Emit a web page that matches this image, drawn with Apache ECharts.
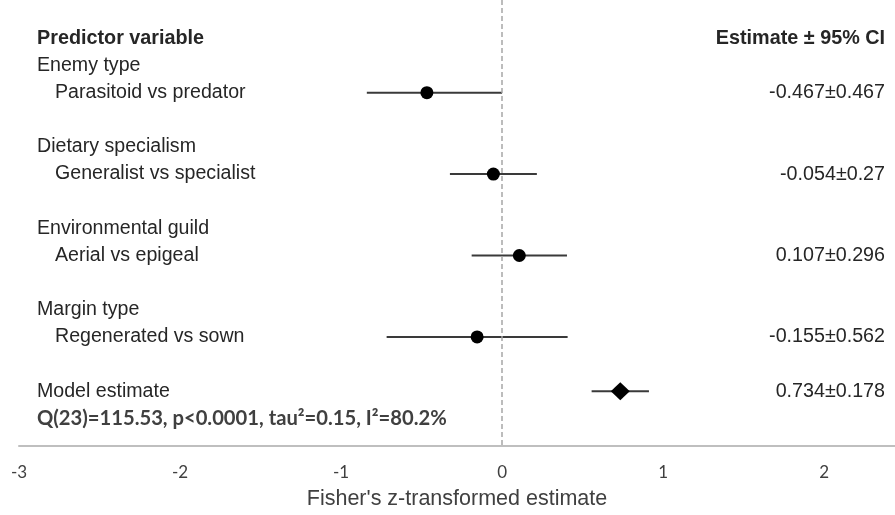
<!DOCTYPE html>
<html>
<head>
<meta charset="utf-8">
<script src="https://cdn.jsdelivr.net/npm/echarts@6/dist/echarts.min.js"></script>
<style>
  html, body { margin: 0; padding: 0; background: #ffffff; }
  #chart { width: 895px; height: 515px; }
</style>
</head>
<body>
<div id="chart"></div>
<script>
// ---- data ----
const groups = ['Enemy type', 'Dietary specialism', 'Environmental guild', 'Margin type'];
const contrasts = ['Parasitoid vs predator', 'Generalist vs specialist', 'Aerial vs epigeal', 'Regenerated vs sown'];
const estimates = [-0.467, -0.054, 0.107, -0.155];
const ciLow = [-0.84, -0.324, -0.189, -0.717];
const ciHigh = [0.0, 0.216, 0.403, 0.407];
const estimateText = ['-0.467±0.467', '-0.054±0.27', '0.107±0.296', '-0.155±0.562'];

const modelLabel = 'Model estimate';
const modelEstimate = 0.734;
const modelLow = 0.556;
const modelHigh = 0.912;
const modelText = '0.734±0.178';
const statsText = 'Q(23)=115.53, p<0.0001, tau²=0.15, I²=80.2%';

const headerLeft = 'Predictor variable';
const headerRight = 'Estimate ± 95% CI';
const xTicks = [-3, -2, -1, 0, 1, 2];
const xTitle = "Fisher's z-transformed estimate";

// ---- row layout (line index of each text row) ----
const leftLabels = { 0: '{hdr|' + headerLeft + '}' };
const rightLabels = { 0: '{hdr|' + headerRight + '}' };
const barData = [];
const dotData = [];
groups.forEach(function (g, i) {
  const gRow = 3 * i + 1, cRow = 3 * i + 2;
  leftLabels[gRow] = '{grp|' + g + '}';
  leftLabels[cRow] = '{sub|' + contrasts[i] + '}';
  rightLabels[cRow] = '{val|' + estimateText[i] + '}';
  barData.push([ciLow[i], ciHigh[i], cRow]);
  dotData.push([estimates[i], cRow]);
});
const mRow = 3 * groups.length + 1;
leftLabels[mRow] = '{grp|' + modelLabel + '}';
leftLabels[mRow + 1] = '{stat|' + statsText + '}';
rightLabels[mRow] = '{val|' + modelText + '}';
barData.push([modelLow, modelHigh, mRow]);
const modelData = [[modelEstimate, mRow]];

const leftRows = Object.keys(leftLabels).map(Number);
const rightRows = Object.keys(rightLabels).map(Number);

const txt = '#262626';
const rich = {
  hdr: { fontFamily: 'Liberation Sans', fontWeight: 'bold', fontSize: 19.8, color: txt },
  grp: { fontFamily: 'Liberation Sans', fontSize: 19.6, color: txt },
  sub: { fontFamily: 'Liberation Sans', fontSize: 19.6, color: txt, padding: [0, 0, 0, 18] },
  stat: { fontFamily: 'Lato', fontWeight: 'bold', fontSize: 20.2, color: '#404040' },
  val: { fontFamily: 'Liberation Sans', fontSize: 19.7, color: txt }
};

const yMin = -1.415, yMax = 15.02;

const chart = echarts.init(document.getElementById('chart'), null, { renderer: 'canvas' });
chart.setOption({
  animation: false,
  backgroundColor: '#ffffff',
  grid: { left: 19, right: 0, top: 0, bottom: 68, containLabel: false },
  xAxis: {
    type: 'value',
    min: xTicks[0],
    max: 2.44,
    interval: 1,
    name: xTitle,
    nameLocation: 'middle',
    nameGap: 42,
    nameTextStyle: { fontFamily: 'Liberation Sans', fontSize: 21.5, color: '#404040' },
    axisLine: { show: true, onZero: false, lineStyle: { color: '#bfbfbf', width: 2 } },
    axisTick: { show: false },
    splitLine: { show: false },
    axisLabel: {
      showMaxLabel: false,
      margin: 18,
      fontFamily: 'Lato',
      fontSize: 17,
      color: '#404040'
    }
  },
  yAxis: [
    {
      type: 'value', inverse: true, min: yMin, max: yMax, position: 'left',
      axisLine: { show: false }, axisTick: { show: false }, splitLine: { show: false },
      axisLabel: {
        inside: true, margin: 18, customValues: leftRows,
        formatter: function (v) { return leftLabels[v] || ''; },
        rich: rich
      }
    },
    {
      type: 'value', inverse: true, min: yMin, max: yMax, position: 'right',
      axisLine: { show: false }, axisTick: { show: false }, splitLine: { show: false },
      axisLabel: {
        inside: true, margin: 10, customValues: rightRows,
        formatter: function (v) { return rightLabels[v] || ''; },
        rich: rich
      }
    }
  ],
  series: [
    {
      type: 'custom',
      data: barData,
      encode: { x: [0, 1], y: 2 },
      renderItem: function (params, api) {
        const a = api.coord([api.value(0), api.value(2)]);
        const b = api.coord([api.value(1), api.value(2)]);
        return {
          type: 'line',
          shape: { x1: a[0], y1: a[1], x2: b[0], y2: b[1] },
          style: { stroke: '#3a3a3a', lineWidth: 2 }
        };
      },
      markLine: {
        silent: true,
        symbol: ['none', 'none'],
        label: { show: false },
        lineStyle: { color: '#a6a6a6', type: [5, 3], width: 1.5 },
        data: [{ xAxis: 0 }]
      },
      z: 2
    },
    {
      type: 'scatter',
      data: dotData,
      symbol: 'circle',
      symbolSize: 13,
      itemStyle: { color: '#000000', opacity: 1 },
      z: 3
    },
    {
      type: 'scatter',
      data: modelData,
      symbol: 'diamond',
      symbolSize: [19, 18],
      itemStyle: { color: '#000000', opacity: 1 },
      z: 3
    }
  ]
});
</script>
</body>
</html>
